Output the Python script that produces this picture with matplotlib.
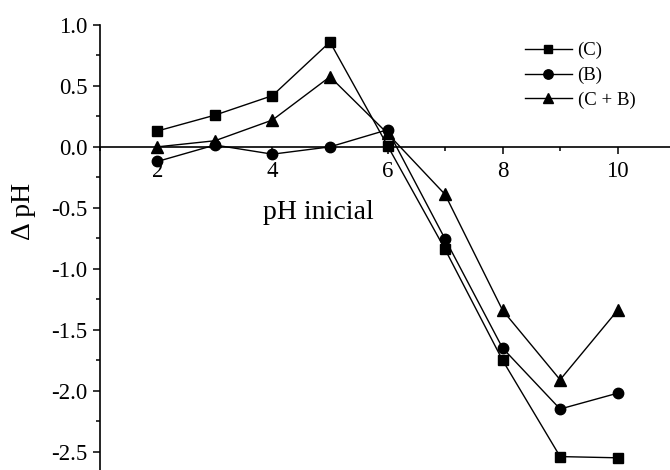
import matplotlib
matplotlib.use("Agg")
import matplotlib.pyplot as plt
from matplotlib.ticker import MultipleLocator

ph_inicial = [2, 3, 4, 5, 6, 7, 8, 9, 10]
delta_C = [0.13, 0.26, 0.42, 0.86, 0.01, -0.84, -1.75, -2.54, -2.55]
delta_B = [-0.12, 0.015, -0.06, 0.0, 0.14, -0.755, -1.65, -2.15, -2.02]
delta_CB = [0.0, 0.05, 0.22, 0.575, 0.11, -0.39, -1.34, -1.91, -1.34]
series_labels = ["(C)", "(B)", "(C + B)"]
x_ticks = [2, 4, 6, 8, 10]
y_ticks = [-2.5, -2.0, -1.5, -1.0, -0.5, 0.0, 0.5, 1.0]

plt.rcParams['font.family'] = ['Liberation Serif', 'DejaVu Serif']

fig = plt.figure(figsize=(6.7, 4.7), dpi=100)
ax = fig.add_axes([0.149, 0.0, 0.851, 0.947])

ax.plot(ph_inicial, delta_C, color='black', lw=1.0, marker='s', ms=6.5, label=series_labels[0])
ax.plot(ph_inicial, delta_B, color='black', lw=1.0, marker='o', ms=7.5, label=series_labels[1])
ax.plot(ph_inicial, delta_CB, color='black', lw=1.0, marker='^', ms=8, label=series_labels[2])

ax.set_xlim(1.0, 10.91)
ax.set_ylim(-2.65, 1.0)

ax.spines['top'].set_visible(False)
ax.spines['right'].set_visible(False)
ax.spines['bottom'].set_position(('data', 0))
ax.spines['left'].set_linewidth(1.2)
ax.spines['bottom'].set_linewidth(1.2)

ax.set_xticks(x_ticks)
ax.set_xticklabels([str(t) for t in x_ticks])
ax.xaxis.set_minor_locator(MultipleLocator(1))
ax.set_yticks(y_ticks)
ax.set_yticklabels([f"{t:.1f}" for t in y_ticks])
ax.yaxis.set_minor_locator(MultipleLocator(0.25))

ax.tick_params(axis='both', which='major', direction='out', length=5, width=1.1, labelsize=16.5)
ax.tick_params(axis='both', which='minor', direction='out', length=3, width=1.1)
ax.tick_params(axis='x', which='major', pad=5)
ax.tick_params(axis='y', which='major', pad=4)

ax.text(0.383, 0.578, "pH inicial", transform=ax.transAxes, ha='center', va='center', fontsize=20)
ax.text(-0.133, 0.58, "\u0394 pH", transform=ax.transAxes, ha='center', va='center', rotation=90, fontsize=20)

leg = ax.legend(loc='upper left', bbox_to_anchor=(525 / 670, 1 - 42 / 470),
                bbox_transform=fig.transFigure, frameon=False, fontsize=13.5,
                borderaxespad=0, borderpad=0,
                handlelength=2.5, handletextpad=0.3, labelspacing=0.4,
                markerscale=0.9)

fig.savefig("out.png", dpi=100)
